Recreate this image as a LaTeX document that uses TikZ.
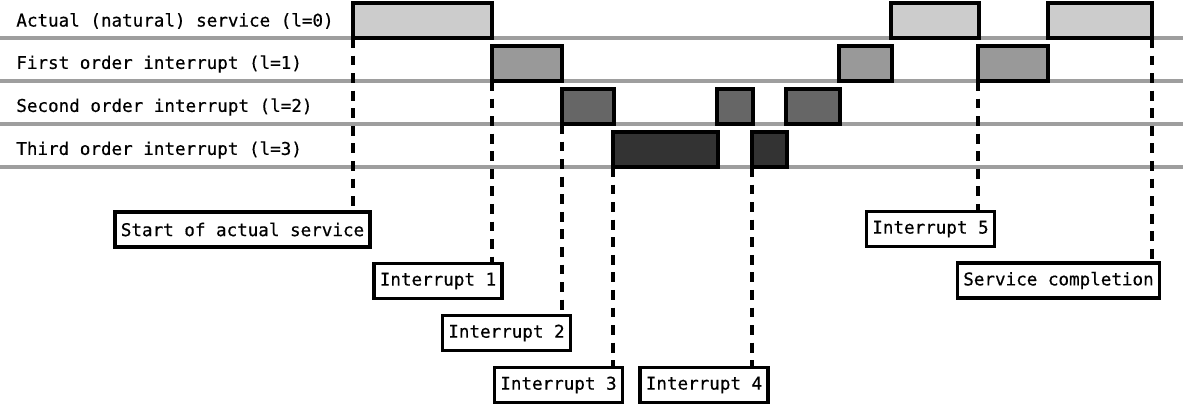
\documentclass[tikz,border=0pt]{standalone}
\usepackage{fontspec}
\setmonofont[FakeBold=0.5]{DejaVu Sans Mono}

% shades for the service levels
\definecolor{lvl0}{gray}{0.80}
\definecolor{lvl1}{gray}{0.60}
\definecolor{lvl2}{gray}{0.40}
\definecolor{lvl3}{gray}{0.20}
\definecolor{rule}{gray}{0.62}

\tikzset{%
    servbar/.style={draw=black,line width=2pt,inner sep=0pt,outer sep=0pt,minimum height=0.7cm},
    event/.style={draw=black,fill=white,line width=2pt,inner xsep=3.4pt,inner ysep=0pt,outer sep=0pt,minimum height=0.7cm},
    guide/.style={line width=2pt,dash pattern=on 5.6pt off 4.4pt},
}

\begin{document}
\begin{tikzpicture}[x=0.02cm,y=-0.02cm,font=\ttfamily\fontsize{10}{12}\selectfont]

%\servslot{name}{level}{from}{to}
\newcommand*{\servslot}[4]{%
	\node [servbar,fill=lvl#2,minimum width={(#4-#3)*0.02cm}] (#1) at ({(#3+#4)/2},{43*#2+20.5}) {};
}

\useasboundingbox (0,0) rectangle (1183,408);

% level rules and their names
\foreach \l/\txt in {0/Actual (natural) service (l=0),1/First order interrupt (l=1),2/Second order interrupt (l=2),3/Third order interrupt (l=3)} {
	\draw [rule,line width=2pt] (0,{38+43*\l}) -- (1183,{38+43*\l});
	\node [anchor=west,inner sep=0pt] (name\l) at (16,{21+43*\l}) {\txt};
}

% actual service
\servslot{a1}{0}{353}{492}
\servslot{a2}{0}{891}{979}
\servslot{a3}{0}{1048}{1152}
% first order
\servslot{f1}{1}{492}{562}
\servslot{f2}{1}{839}{892}
\servslot{f3}{1}{978}{1048}
% second order
\servslot{s1}{2}{562}{614}
\servslot{s2}{2}{717}{753}
\servslot{s3}{2}{786}{840}
% third order
\servslot{t1}{3}{613}{718}
\servslot{t2}{3}{752}{787}

% event boxes
\node [event] (start) at (242.5,229.5) {Start of actual service};
\node [event] (int1) at (438,281) {Interrupt 1};
\node [event] (int2) at (506.5,333) {Interrupt 2};
\node [event] (int3) at (558.5,385) {Interrupt 3};
\node [event] (int4) at (704,385) {Interrupt 4};
\node [event] (int5) at (930.5,229) {Interrupt 5};
\node [event] (done) at (1058.5,280.5) {Service completion};

% drop lines
\draw [guide] (a1.south west) -- (a1.south west |- start.north);
\draw [guide] (f1.south west) -- (f1.south west |- int1.north);
\draw [guide] (s1.south west) -- (s1.south west |- int2.north);
\draw [guide] (t1.south west) -- (t1.south west |- int3.north);
\draw [guide] (t2.south west) -- (t2.south west |- int4.north);
\draw [guide] (f3.south west) -- (f3.south west |- int5.north);
\draw [guide] (a3.south east) -- (a3.south east |- done.north);

\end{tikzpicture}
\end{document}
